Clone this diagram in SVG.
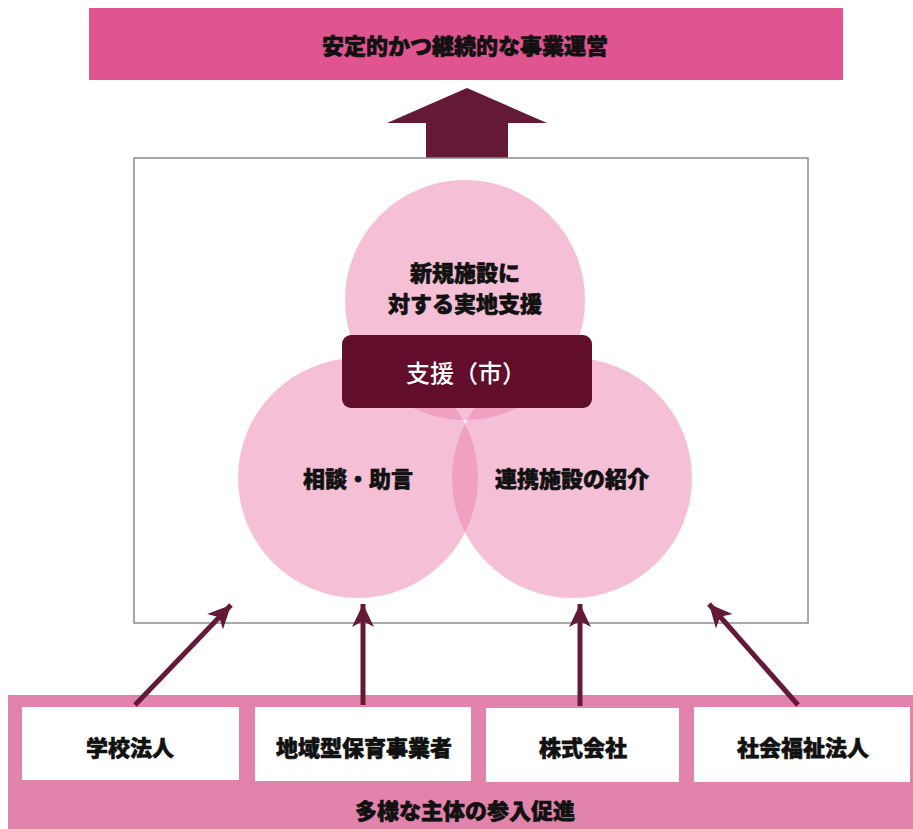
<svg xmlns="http://www.w3.org/2000/svg" width="913" height="829" viewBox="0 0 913 829">
<defs>
<style>
.t{font-family:"Noto Sans CJK JP","Noto Sans",sans-serif;font-weight:900;font-size:22px;fill:#111;stroke:#111;stroke-width:0.6;text-anchor:middle;dominant-baseline:central}
.w{fill:#ffffff;stroke:none;font-weight:500;font-size:24px}
.c{fill:#ec82ae;fill-opacity:0.5}
.box{fill:#ffffff}
.conn{stroke:#641a36;stroke-width:5;fill:none;marker-end:url(#ah)}
</style>
<marker id="ah" markerWidth="10" markerHeight="10" viewBox="0 0 10 10" refX="9" refY="5" orient="auto" markerUnits="userSpaceOnUse" style="overflow:visible">
<path d="M-14,-6 L9,5 L-14,16 L-8,5 Z" fill="#641a36"/>
</marker>
</defs>
<rect width="913" height="829" fill="#ffffff"/>
<g id="goal">
<rect x="89" y="8" width="754" height="72" fill="#e0558f"/>
<text class="t" x="465" y="44">安定的かつ継続的な事業運営</text>
</g>
<g id="big-arrow">
<path d="M467,88 L547,123 L508,123 L508,158 L426,158 L426,123 L387,123 Z" fill="#641a36"/>
</g>
<g id="frame">
<rect x="134" y="158" width="674" height="465" fill="none" stroke="#8c8c8c" stroke-width="1.5"/>
</g>
<g id="circle-top">
<circle class="c" cx="465" cy="300" r="120"/>
<text class="t" x="465" y="271">新規施設に</text>
<text class="t" x="465" y="302">対する実地支援</text>
</g>
<g id="circle-left">
<circle class="c" cx="358" cy="478" r="120"/>
<text class="t" x="358" y="477">相談・助言</text>
</g>
<g id="circle-right">
<circle class="c" cx="572" cy="478" r="120"/>
<text class="t" x="572" y="477">連携施設の紹介</text>
</g>
<g id="support">
<rect x="342" y="335" width="250" height="73" rx="9" fill="#620d2b"/>
<text class="t w" x="466" y="371">支援（市）</text>
</g>
<g id="band">
<rect x="8" y="695" width="905" height="134" fill="#e283ab"/>
<text class="t" x="465" y="809">多様な主体の参入促進</text>
</g>
<g id="node-gakko">
<rect class="box" x="22" y="707" width="217" height="73"/>
<text class="t" x="130" y="746">学校法人</text>
</g>
<g id="node-chiiki">
<rect class="box" x="255" y="707" width="216" height="74"/>
<text class="t" x="364" y="746">地域型保育事業者</text>
</g>
<g id="node-kabushiki">
<rect class="box" x="486" y="708" width="193" height="74"/>
<text class="t" x="583" y="746">株式会社</text>
</g>
<g id="node-shakai">
<rect class="box" x="694" y="707" width="216" height="75"/>
<text class="t" x="803" y="746">社会福祉法人</text>
</g>
<g id="connectors">
<line class="conn" x1="135" y1="705" x2="231" y2="605"/>
<line class="conn" x1="363" y1="705" x2="363" y2="604"/>
<line class="conn" x1="580" y1="706" x2="580" y2="604"/>
<line class="conn" x1="798" y1="705" x2="709" y2="604"/>
</g>
</svg>
